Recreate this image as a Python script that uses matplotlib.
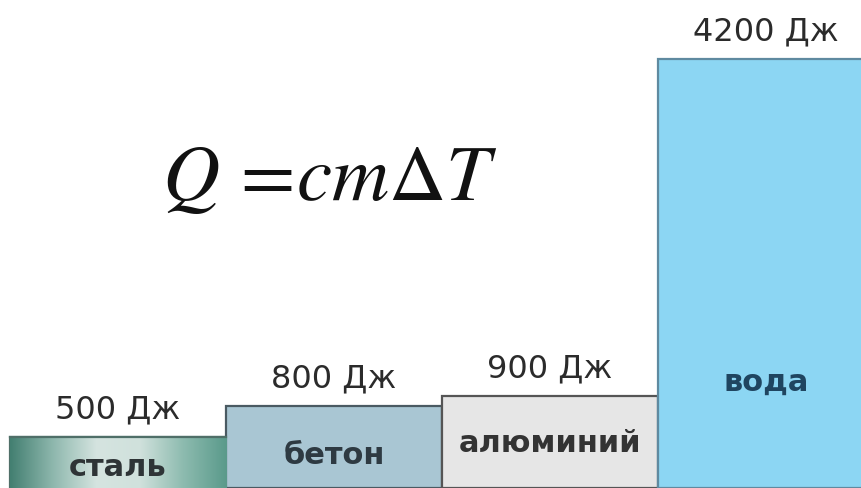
import numpy as np
import matplotlib.pyplot as plt
from matplotlib.colors import LinearSegmentedColormap

# данные
materials = ['сталь', 'бетон', 'алюминий', 'вода']
heat = [500, 800, 900, 4200]          # Дж
value_labels = ['500 Дж', '800 Дж', '900 Дж', '4200 Дж']
bar_colors = ['#7fb0a6', '#a9c6d3', '#e6e6e6', '#8cd6f3']
edge_colors = ['#4f6f68', '#4a5a62', '#555555', '#5f8aa0']
label_colors = ['#2e3436', '#2e3a42', '#333333', '#1f4560']

fig = plt.figure(figsize=(8.61, 4.89), dpi=100)
ax = fig.add_axes([0, 0, 1, 1])
ax.set_xlim(-0.546, 3.44)
ax.set_ylim(0, 4790)
ax.axis('off')

x = np.arange(len(materials))
bars = ax.bar(x, heat, width=1.0, color=bar_colors, edgecolor=edge_colors,
              linewidth=1.6, zorder=2)

# градиент для стали
steel = bars[0]
grad = LinearSegmentedColormap.from_list(
    'steel', ['#437f71', '#8fb8ae', '#d5e4e0', '#d0e1dc', '#8dbbaf', '#5a9a8b'])
g = np.linspace(0, 1, 256).reshape(1, -1)
im = ax.imshow(g, cmap=grad, aspect='auto', zorder=2.5,
               extent=[steel.get_x(), steel.get_x() + steel.get_width(), 0, steel.get_height()])
im.set_clip_path(steel)
ax.plot([steel.get_x(), steel.get_x() + steel.get_width()], [heat[0], heat[0]],
        color=edge_colors[0], lw=1.6, zorder=3)

# подписи значений над столбцами
for xi, h, lab in zip(x, heat, value_labels):
    ax.annotate(lab, (xi, h), xytext=(0, 9), textcoords='offset points',
                ha='center', va='bottom', fontsize=23, color='#2b2b2b',
                family='DejaVu Sans', zorder=4)

# названия материалов внутри столбцов
name_y = [210, 330, 450, 1050]
for xi, ny, name, c in zip(x, name_y, materials, label_colors):
    ax.text(xi, ny, name, ha='center', va='center', fontsize=22,
            fontweight='bold', color=c, family='DejaVu Sans', zorder=4)

# формула
plt.rcParams['mathtext.fontset'] = 'stix'
ax.text(0.98, 3050, r'$Q\,=\!cm\Delta T$', ha='center', va='center',
        fontsize=57, color='#111111', zorder=4)

fig.savefig('out.png', dpi=100)
